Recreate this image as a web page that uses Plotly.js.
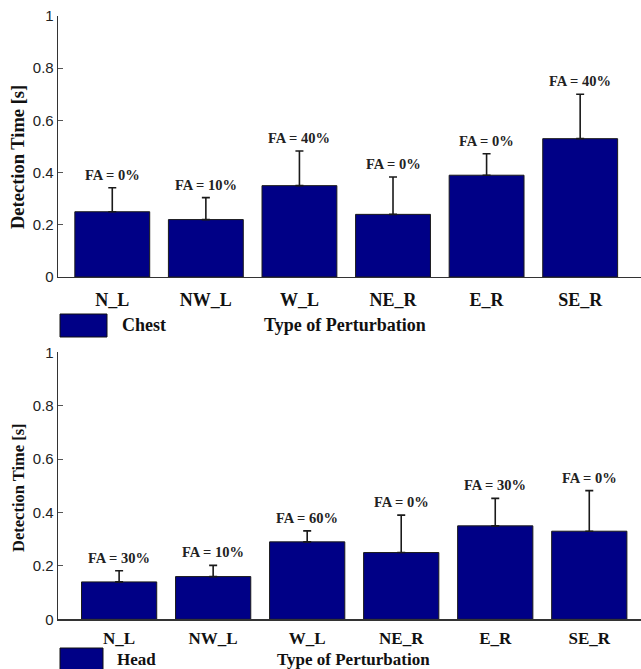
<!DOCTYPE html>
<html>
<head>
<meta charset="utf-8">
<script src="https://cdn.plot.ly/plotly-3.0.1.min.js"></script>
<style>html,body{margin:0;padding:0;background:#fff;}#chart{width:641px;height:669px;}</style>
</head>
<body>
<div id="chart"></div>
<script>
// ---- data ----
const categories = ['N_L', 'NW_L', 'W_L', 'NE_R', 'E_R', 'SE_R'];
const chestMean = [0.25, 0.22, 0.35, 0.24, 0.39, 0.53];
const chestErr  = [0.092, 0.084, 0.133, 0.143, 0.082, 0.17];
const chestFA   = ['FA = 0%', 'FA = 10%', 'FA = 40%', 'FA = 0%', 'FA = 0%', 'FA = 40%'];
const headMean  = [0.14, 0.16, 0.29, 0.25, 0.35, 0.33];
const headErr   = [0.042, 0.042, 0.041, 0.14, 0.103, 0.152];
const headFA    = ['FA = 30%', 'FA = 10%', 'FA = 60%', 'FA = 0%', 'FA = 30%', 'FA = 0%'];
const yTickVals = [0, 0.2, 0.4, 0.6, 0.8, 1];
const yTickText = ['0', '0.2', '0.4', '0.6', '0.8', '1'];

const W = 641, H = 669;
const px = v => v / W;
const py = v => 1 - v / H;

const barColor = '#000086';
const serif = 'Liberation Serif, Times New Roman, serif';
const sans = 'Liberation Sans, Arial, sans-serif';

function barTrace(y, err, xa, ya, name) {
  return {
    type: 'bar', x: categories, y: y, name: name, xaxis: xa, yaxis: ya,
    width: 0.8,
    marker: {color: barColor, line: {color: '#1a1a1a', width: 1}},
    error_y: {type: 'data', array: err, symmetric: false, arrayminus: err.map(() => 0),
              color: '#1a1a1a', thickness: 1.6, width: 4},
    showlegend: false, hoverinfo: 'skip'
  };
}

const data = [
  barTrace(chestMean, chestErr, 'x', 'y', 'Chest'),
  barTrace(headMean, headErr, 'x2', 'y2', 'Head')
];

function yAxis(domain, anchor) {
  return {
    domain: domain, anchor: anchor, range: [0, 1], tickvals: yTickVals, ticktext: yTickText,
    ticks: 'inside', ticklen: 5, tickcolor: '#555', tickwidth: 1,
    showline: true, linecolor: '#333', linewidth: 1.3, showgrid: false, zeroline: false,
    tickfont: {family: sans, size: 15, color: '#222'}, fixedrange: true
  };
}
function xAxis(range, anchor, fsize, standoff) {
  return {
    domain: [px(58), 1], anchor: anchor, type: 'category', range: range,
    showline: true, linecolor: '#333', linewidth: 1.3, showgrid: false, zeroline: false,
    ticks: '', ticklabelstandoff: standoff,
    tickfont: {family: serif, size: fsize, color: '#111', weight: 'bold'}, fixedrange: true
  };
}

const annotations = [];
function faLabels(means, errs, labels, xr, yr) {
  means.forEach((m, i) => {
    annotations.push({
      xref: xr, yref: yr, x: categories[i], y: m + errs[i], text: '<b>' + labels[i] + '</b>',
      showarrow: false, yanchor: 'bottom', yshift: 3,
      font: {family: serif, size: 14.5, color: '#222'}
    });
  });
}
faLabels(chestMean, chestErr, chestFA, 'x', 'y');
faLabels(headMean, headErr, headFA, 'x2', 'y2');

function txt(x, y, t, size, angle) {
  annotations.push({xref: 'paper', yref: 'paper', x: px(x), y: py(y), text: '<b>' + t + '</b>',
    showarrow: false, xanchor: 'center', yanchor: 'middle', textangle: angle || 0,
    font: {family: serif, size: size, color: '#111'}});
}
txt(18, 157, 'Detection Time [s]', 18.5, -90);
txt(18, 488, 'Detection Time [s]', 16.5, -90);
txt(144, 325, 'Chest', 18);
txt(345, 325, 'Type of Perturbation', 18);
txt(136, 659, 'Head', 17);
txt(354, 659, 'Type of Perturbation', 17);

const shapes = [
  {type: 'rect', xref: 'paper', yref: 'paper', x0: px(60), x1: px(107), y0: py(337), y1: py(314),
   fillcolor: barColor, line: {color: '#111', width: 1}},
  {type: 'rect', xref: 'paper', yref: 'paper', x0: px(60), x1: px(103), y0: py(671), y1: py(648),
   fillcolor: barColor, line: {color: '#111', width: 1}}
];

const layout = {
  width: W, height: H, margin: {l: 0, r: 0, t: 0, b: 0},
  paper_bgcolor: '#fff', plot_bgcolor: '#fff', showlegend: false,
  xaxis: xAxis([-0.58, 5.65], 'y', 18, 6),
  yaxis: yAxis([py(277), py(16)], 'x'),
  xaxis2: xAxis([-0.65, 5.55], 'y2', 17, 3),
  yaxis2: yAxis([py(619.3), py(352.3)], 'x2'),
  annotations: annotations, shapes: shapes, bargap: 0.2
};

Plotly.newPlot('chart', data, layout, {displayModeBar: false, staticPlot: true});
</script>
</body>
</html>
